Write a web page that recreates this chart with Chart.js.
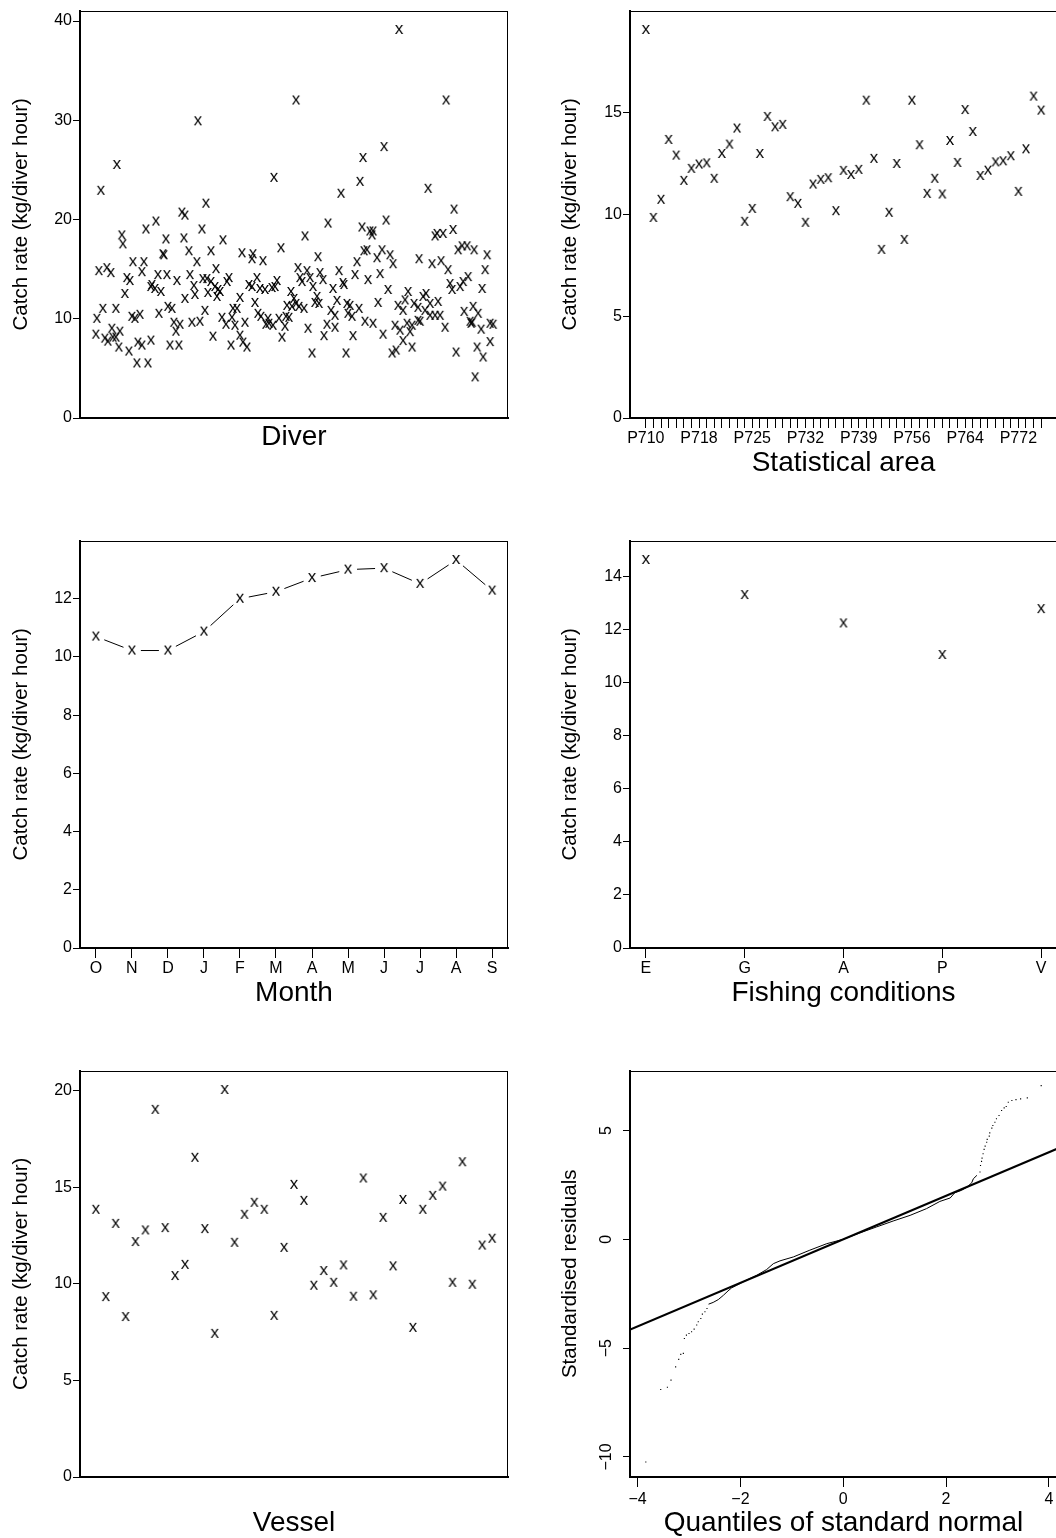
<!DOCTYPE html>
<html>
<head>
<meta charset="utf-8">
<script src="https://cdn.jsdelivr.net/npm/chart.js@4.4.1/dist/chart.umd.min.js"></script>
<style>
	html, body { margin: 0; padding: 0; width: 1056px; height: 1538px; overflow: hidden; background: #fff; }
	canvas { position: absolute; }
</style>
</head>
<body>
<canvas id="c-diver"  width="528" height="470" style="left:0;top:0"></canvas>
<canvas id="c-area"   width="528" height="490" style="left:549px;top:0"></canvas>
<canvas id="c-month"  width="528" height="490" style="left:0;top:530px"></canvas>
<canvas id="c-cond"   width="528" height="490" style="left:549px;top:530px"></canvas>
<canvas id="c-vessel" width="528" height="480" style="left:0;top:1060px"></canvas>
<canvas id="c-qq"     width="528" height="480" style="left:549px;top:1060px"></canvas>
<script>
// --- data --------------------------------------------------------------------

// divers, in plotting order (position along the hidden axis) and effect
const diverPos = [
	0, 1, 3, 5, 7, 9, 11, 12, 15, 16, 17, 20, 20, 21, 23, 24, 26, 27, 29, 31,
	33, 34, 36, 37, 39, 41, 42, 44, 46, 46, 48, 50, 52, 55, 55, 56, 59, 60, 62, 63,
	65, 67, 68, 70, 71, 72, 74, 76, 78, 80, 81, 83, 84, 86, 88, 89, 89, 93, 94, 96,
	98, 99, 101, 102, 104, 106, 107, 109, 110, 111, 112, 115, 115, 117, 119, 120, 121, 122, 124, 126,
	127, 130, 131, 133, 135, 136, 137, 139, 141, 144, 144, 146, 147, 149, 151, 153, 156, 156, 157, 159,
	161, 162, 164, 165, 167, 169, 170, 172, 173, 176, 177, 178, 179, 181, 183, 185, 186, 189, 190, 191,
	193, 195, 196, 198, 200, 200, 202, 203, 204, 206, 208, 209, 211, 212, 214, 216, 217, 219, 221, 222,
	223, 224, 227, 228, 231, 232, 235, 237, 239, 239, 241, 243, 245, 247, 248, 250, 251, 252, 254, 256,
	257, 259, 261, 263, 264, 266, 267, 268, 269, 271, 272, 274, 276, 277, 277, 281, 282, 284, 286, 287,
	288, 290, 292, 294, 296, 297, 299, 300, 302, 303, 304, 307, 307, 309, 311, 312, 314, 316, 316, 318,
	322, 322, 323, 324, 327, 329, 330, 332, 334, 334, 336, 339, 339, 341, 342, 344, 345, 347, 349, 350,
	352, 354, 356, 357, 358, 360, 362, 364, 366, 367, 368, 371, 372, 374, 375, 376, 377, 378, 379, 381,
	382, 385, 386, 387, 389, 391, 394, 394, 397
];
const diverRate = [
	8.4, 10.0, 14.8, 22.9, 11.0, 8.0, 15.1, 7.7, 14.6, 9.0, 8.1, 8.1, 11.0, 25.5, 7.1, 8.7, 18.4, 17.5, 12.5, 14.1,
	6.7, 13.8, 10.2, 15.7, 10.0, 5.5, 7.6, 10.4, 14.7, 7.3, 15.7, 19.0, 5.5, 13.2, 7.8, 13.4, 13.0, 19.8, 14.4, 10.5,
	12.7, 16.5, 16.4, 18.0, 14.4, 11.2, 7.3, 11.0, 9.6, 8.7, 13.8, 7.3, 9.4, 20.7, 18.1, 20.4, 12.0, 16.8, 14.4, 9.6,
	13.3, 12.4, 15.7, 29.9, 9.7, 19.0, 14.0, 10.8, 21.6, 14.0, 12.6, 13.7, 16.8, 8.2, 13.2, 15.0, 12.2, 12.9, 12.7, 10.1,
	17.9, 9.4, 13.7, 14.1, 7.3, 10.1, 11.0, 9.3, 11.0, 12.1, 8.3, 16.6, 7.6, 9.6, 7.1, 13.4, 16.0, 13.2, 16.5, 11.6,
	14.1, 10.5, 13.0, 10.2, 15.8, 12.9, 9.4, 10.0, 9.5, 13.1, 9.3, 24.2, 13.2, 13.8, 10.0, 17.1, 8.1, 9.2, 10.2, 11.3,
	10.1, 12.7, 11.2, 12.0, 32.0, 11.5, 15.1, 11.2, 14.1, 13.7, 11.0, 18.3, 14.8, 9.0, 14.1, 6.5, 13.2, 11.6, 12.2, 16.2,
	11.5, 14.6, 13.9, 8.25, 9.4, 19.6, 10.8, 13.0, 10.3, 9.1, 11.8, 14.8, 22.6, 13.6, 13.4, 6.5, 11.5, 10.5, 11.3, 10.2,
	8.25, 14.4, 15.7, 11.0, 23.8, 19.2, 26.2, 16.8, 9.7, 16.9, 13.9, 18.8, 18.4, 18.8, 9.5, 16.1, 11.6, 14.5, 16.9, 8.4,
	27.3, 19.9, 12.9, 16.4, 6.5, 15.5, 9.3, 6.8, 11.3, 39.1, 8.8, 7.75, 10.8, 11.85, 9.5, 12.7, 8.65, 9.3, 7.1, 11.5,
	11.1, 9.8, 16.0, 9.7, 12.2, 10.8, 12.5, 23.1, 11.5, 10.3, 15.5, 18.3, 10.3, 18.55, 11.7, 10.3, 15.8, 18.55, 9.1, 32.0,
	14.9, 13.5, 12.9, 18.95, 21.0, 6.6, 16.9, 13.2, 17.3, 13.7, 10.7, 17.3, 14.2, 9.7, 9.5, 9.6, 11.2, 16.9, 4.1, 7.1,
	10.5, 8.9, 13.0, 6.1, 14.9, 16.4, 9.5, 7.65, 9.4
];
const diverTicks = [0, 10, 20, 30, 40];

const areaCodes = [
	'P710', 'P711', 'P712', 'P713', 'P714', 'P715', 'P716', 'P718', 'P719', 'P720',
	'P721', 'P722', 'P723', 'P724', 'P725', 'P726', 'P727', 'P728', 'P729', 'P730',
	'P731', 'P732', 'P733', 'P734', 'P735', 'P736', 'P737', 'P738', 'P739', 'P740',
	'P741', 'P742', 'P743', 'P744', 'P745', 'P756', 'P757', 'P758', 'P759', 'P760',
	'P761', 'P762', 'P764', 'P765', 'P766', 'P767', 'P768', 'P769', 'P770', 'P772',
	'P773', 'P774', 'P775'
];
const areaShownLabels = ['P710', 'P718', 'P725', 'P732', 'P739', 'P756', 'P764', 'P772'];
const areaRate = [
	19.06, 9.83, 10.72, 13.66, 12.89, 11.65, 12.24, 12.45, 12.51, 11.75,
	12.97, 13.43, 14.22, 9.64, 10.27, 12.97, 14.79, 14.28, 14.40, 10.85,
	10.52, 9.59, 11.47, 11.70, 11.78, 10.16, 12.14, 11.94, 12.19, 15.59,
	12.73, 8.26, 10.08, 12.48, 8.75, 15.59, 13.40, 11.01, 11.75, 10.98,
	13.61, 12.53, 15.13, 14.05, 11.89, 12.15, 12.56, 12.61, 12.86, 11.11,
	13.20, 15.79, 15.10
];
const areaTicks = [0, 5, 10, 15];

const monthLabels = ['O', 'N', 'D', 'J', 'F', 'M', 'A', 'M', 'J', 'J', 'A', 'S'];
const monthRate   = [10.70, 10.22, 10.22, 10.87, 12.00, 12.24, 12.71, 13.00, 13.05, 12.51, 13.33, 12.28];
const monthTicks  = [0, 2, 4, 6, 8, 10, 12];

const conditionLabels = ['E', 'G', 'A', 'P', 'V'];
const conditionRate   = [14.63, 13.31, 12.24, 11.05, 12.78];
const conditionTicks  = [0, 2, 4, 6, 8, 10, 12, 14];

const vesselRate = [
	13.83, 9.31, 13.10, 8.28, 12.16, 12.76, 19.00, 12.88, 10.40, 10.98,
	16.52, 12.83, 7.41, 20.03, 12.12, 13.57, 14.19, 13.83, 8.34, 11.86,
	15.12, 14.29, 9.90, 10.66, 10.05, 10.95, 9.33, 15.45, 9.40, 13.41,
	10.90, 14.34, 7.72, 13.83, 14.55, 15.03, 10.05, 16.29, 9.95, 11.98,
	12.33
];
const vesselTicks = [0, 5, 10, 15, 20];

// normal QQ plot of standardised residuals
const qqLineX = [-4.16, 4.16];
const qqLineY = [-4.16, 4.16];
const qqBodyX = [-2.62, -2.53, -2.43, -2.33, -2.24, -2.17, -2.07, -1.91, -1.68, -1.49, -1.36, -1.23, -0.97, -0.65, -0.32,
	0, 0.32, 0.65, 0.97, 1.30, 1.62, 1.88, 2.08, 2.17, 2.30, 2.41, 2.50, 2.53, 2.60];
const qqBodyY = [-2.98, -2.90, -2.77, -2.57, -2.37, -2.23, -2.11, -1.91, -1.65, -1.39, -1.12, -0.99, -0.81, -0.50, -0.20,
	0, 0.29, 0.57, 0.84, 1.10, 1.41, 1.74, 1.90, 2.14, 2.25, 2.40, 2.60, 2.78, 2.94];
const qqTailX = [-3.84, -3.55, -3.42, -3.35, -3.26, -3.20, -3.16, -3.11, -3.09, -3.05, -3.00, -2.95, -2.90, -2.85, -2.82,
	-2.77, -2.74, -2.69, -2.65,
	2.66, 2.67, 2.69, 2.70, 2.72, 2.74, 2.76, 2.79, 2.80, 2.84, 2.85, 2.89, 2.91, 2.95, 2.98, 3.03,
	3.08, 3.13, 3.17, 3.21, 3.28, 3.36, 3.45, 3.58, 3.85];
const qqTailY = [-10.23, -6.90, -6.80, -6.47, -5.86, -5.52, -5.29, -5.24, -4.56, -4.40, -4.33, -4.25, -4.13, -3.94, -3.79,
	-3.64, -3.44, -3.33, -3.18,
	3.09, 3.39, 3.58, 3.73, 3.93, 4.13, 4.28, 4.46, 4.59, 4.74, 4.89, 5.11, 5.23, 5.38, 5.54, 5.69,
	5.92, 6.04, 6.10, 6.30, 6.38, 6.42, 6.45, 6.50, 7.06];
const qqXTicks = [-4, -2, 0, 2, 4];
const qqYTicks = [-10, -5, 0, 5];

// --- helpers -----------------------------------------------------------------

Chart.defaults.font.family = '"Liberation Sans", Arial, Helvetica, sans-serif';
Chart.defaults.font.size = 16;
Chart.defaults.color = '#000';

const YLAB = 'Catch rate (kg/diver hour)';
const GAP  = 9;

// R style "x" plotting character, drawn once and reused as point style
function glyphX() {
	const c = document.createElement('canvas');
	c.width = 14; c.height = 14;
	const g = c.getContext('2d');
	g.font = '17px "Liberation Sans", Arial, sans-serif';
	g.textAlign = 'center';
	g.textBaseline = 'alphabetic';
	g.fillStyle = '#000';
	g.fillText('x', 7, 7 + 17 * 0.26);
	return c;
}
const xMark = glyphX();

// R pads a data range by 4% on each side
function padRange(lo, hi) { const d = (hi - lo) * 0.04; return [lo - d, hi + d]; }
function fmtTick(v) { return String(v).replace('-', '\u2212'); }
function pts(xs, ys) { return xs.map((x, i) => ({ x: x, y: ys[i] })); }
function seq(n) { return Array.from({ length: n }, (_, i) => i + 1); }

function tickGrid(len) {
	return { display: true, drawOnChartArea: false, drawTicks: true, tickLength: len, color: '#000', lineWidth: 1 };
}
function axisLine() { return { display: true, color: '#000', width: 2 }; }

function leftAxis(o) {
	return {
		type: 'linear', position: 'left', min: o.min, max: o.max, bounds: 'data',
		afterBuildTicks: s => { s.ticks = o.ticks.map(v => ({ value: v })); },
		afterFit: s => { s.width = o.width; },
		grid: tickGrid(7),
		border: axisLine(),
		ticks: { padding: 1, callback: fmtTick, color: o.hideLabels ? 'rgba(0,0,0,0)' : '#000' },
		title: { display: true, text: o.title, font: { size: 20.5 }, padding: { top: 9, bottom: 0 } }
	};
}

function bottomAxis(o) {
	const ax = {
		type: 'linear', position: 'bottom', min: o.min, max: o.max, bounds: 'data',
		afterFit: s => { s.height = o.height; },
		grid: o.ticks ? tickGrid(10) : { display: true, drawOnChartArea: false, drawTicks: false },
		border: axisLine(),
		ticks: o.ticks
			? { padding: o.pad, autoSkip: false, maxRotation: 0, minRotation: 0, callback: o.label }
			: { display: false },
		title: { display: true, text: o.title, font: { size: 28 }, padding: { top: 0, bottom: o.titlePad } }
	};
	if (o.ticks) ax.afterBuildTicks = s => { s.ticks = o.ticks.map(v => ({ value: v })); };
	return ax;
}

function markers(data) {
	return { data: data, pointStyle: xMark, pointRadius: 4, showLine: false };
}

// --- plugins -----------------------------------------------------------------

const boxPlugin = {
	id: 'box',
	afterDraw(chart) {
		const a = chart.chartArea, ctx = chart.ctx;
		ctx.save();
		ctx.strokeStyle = '#000';
		ctx.lineWidth = 1;
		ctx.strokeRect(Math.round(a.left) + 0.5, Math.round(a.top) + 0.5,
			Math.round(a.right - a.left) - 1, Math.round(a.bottom - a.top) - 1);
		ctx.restore();
	}
};

// type="b": segments between points, broken around each marker
const gapLinePlugin = {
	id: 'gapLine',
	afterDatasetsDraw(chart) {
		const p = chart.getDatasetMeta(0).data;
		const ctx = chart.ctx;
		ctx.save();
		ctx.strokeStyle = '#000';
		ctx.lineWidth = 1;
		ctx.beginPath();
		for (let i = 1; i < p.length; i++) {
			const dx = p[i].x - p[i - 1].x, dy = p[i].y - p[i - 1].y;
			const len = Math.hypot(dx, dy);
			if (len <= 2 * GAP) continue;
			const ux = dx / len, uy = dy / len;
			ctx.moveTo(p[i - 1].x + ux * GAP, p[i - 1].y + uy * GAP);
			ctx.lineTo(p[i].x - ux * GAP, p[i].y - uy * GAP);
		}
		ctx.stroke();
		ctx.restore();
	}
};

// y tick labels parallel to the axis (las = 0)
const rotatedYLabels = {
	id: 'rotY',
	afterDraw(chart) {
		const s = chart.scales.y, ctx = chart.ctx;
		ctx.save();
		ctx.fillStyle = '#000';
		ctx.font = '16px "Liberation Sans", Arial, sans-serif';
		ctx.textAlign = 'center';
		ctx.textBaseline = 'middle';
		s.ticks.forEach(t => {
			ctx.save();
			ctx.translate(s.right - 23, s.getPixelForValue(t.value));
			ctx.rotate(-Math.PI / 2);
			ctx.fillText(fmtTick(t.value), 0, 0);
			ctx.restore();
		});
		ctx.restore();
	}
};

function makeChart(id, datasets, scales, extra) {
	return new Chart(document.getElementById(id), {
		type: 'scatter',
		data: { datasets: datasets },
		options: {
			responsive: false, animation: false, devicePixelRatio: 1,
			layout: { padding: { top: 10, right: 20, left: 0, bottom: 0 } },
			plugins: { legend: { display: false }, tooltip: { enabled: false } },
			scales: scales
		},
		plugins: [boxPlugin].concat(extra || [])
	});
}

// --- panels ------------------------------------------------------------------

let r;

// Diver
r = padRange(0, 396);
makeChart('c-diver', [markers(pts(diverPos, diverRate))], {
	x: bottomAxis({ min: r[0], max: r[1], height: 52, title: 'Diver', titlePad: 16 }),
	y: leftAxis({ min: 0, max: 1.05 * Math.max(...diverRate), ticks: diverTicks, width: 80, title: YLAB })
});

// Statistical area
r = padRange(1, areaCodes.length);
makeChart('c-area', [markers(pts(seq(areaRate.length), areaRate))], {
	x: bottomAxis({
		min: r[0], max: r[1], height: 72, title: 'Statistical area', titlePad: 10, pad: 1,
		ticks: seq(areaCodes.length),
		label: v => { const c = areaCodes[v - 1]; return areaShownLabels.includes(c) ? c : ''; }
	}),
	y: leftAxis({ min: 0, max: 1.05 * Math.max(...areaRate), ticks: areaTicks, width: 81, title: YLAB })
});

// Month
r = padRange(1, monthLabels.length);
makeChart('c-month', [markers(pts(seq(monthRate.length), monthRate))], {
	x: bottomAxis({
		min: r[0], max: r[1], height: 72, title: 'Month', titlePad: 10, pad: 1,
		ticks: seq(monthLabels.length), label: v => monthLabels[v - 1]
	}),
	y: leftAxis({ min: 0, max: 1.05 * Math.max(...monthRate), ticks: monthTicks, width: 80, title: YLAB })
}, [gapLinePlugin]);

// Fishing conditions
r = padRange(1, conditionLabels.length);
makeChart('c-cond', [markers(pts(seq(conditionRate.length), conditionRate))], {
	x: bottomAxis({
		min: r[0], max: r[1], height: 72, title: 'Fishing conditions', titlePad: 10, pad: 1,
		ticks: seq(conditionLabels.length), label: v => conditionLabels[v - 1]
	}),
	y: leftAxis({ min: 0, max: 1.05 * Math.max(...conditionRate), ticks: conditionTicks, width: 81, title: YLAB })
});

// Vessel
r = padRange(1, vesselRate.length);
makeChart('c-vessel', [markers(pts(seq(vesselRate.length), vesselRate))], {
	x: bottomAxis({ min: r[0], max: r[1], height: 63, title: 'Vessel', titlePad: 0 }),
	y: leftAxis({ min: 0, max: 1.05 * Math.max(...vesselRate), ticks: vesselTicks, width: 80, title: YLAB })
});

// QQ plot
const qqXR = padRange(Math.min(...qqTailX), Math.max(...qqTailX));
const qqYR = padRange(Math.min(...qqTailY), Math.max(...qqTailY));
makeChart('c-qq', [
	{ data: pts(qqLineX, qqLineY), showLine: true, borderColor: '#000', borderWidth: 2, pointRadius: 0 },
	{ data: pts(qqBodyX, qqBodyY), showLine: true, borderColor: '#000', borderWidth: 1, pointRadius: 0 },
	{ data: pts(qqTailX, qqTailY), showLine: false, pointStyle: 'rect', pointRadius: 0.8,
	  backgroundColor: '#000', borderWidth: 0 }
], {
	x: bottomAxis({
		min: qqXR[0], max: qqXR[1], height: 63, title: 'Quantiles of standard normal', titlePad: 0, pad: 3,
		ticks: qqXTicks, label: fmtTick
	}),
	y: leftAxis({ min: qqYR[0], max: qqYR[1], ticks: qqYTicks, width: 81, title: 'Standardised residuals', hideLabels: true })
}, [rotatedYLabels]);
</script>
</body>
</html>
